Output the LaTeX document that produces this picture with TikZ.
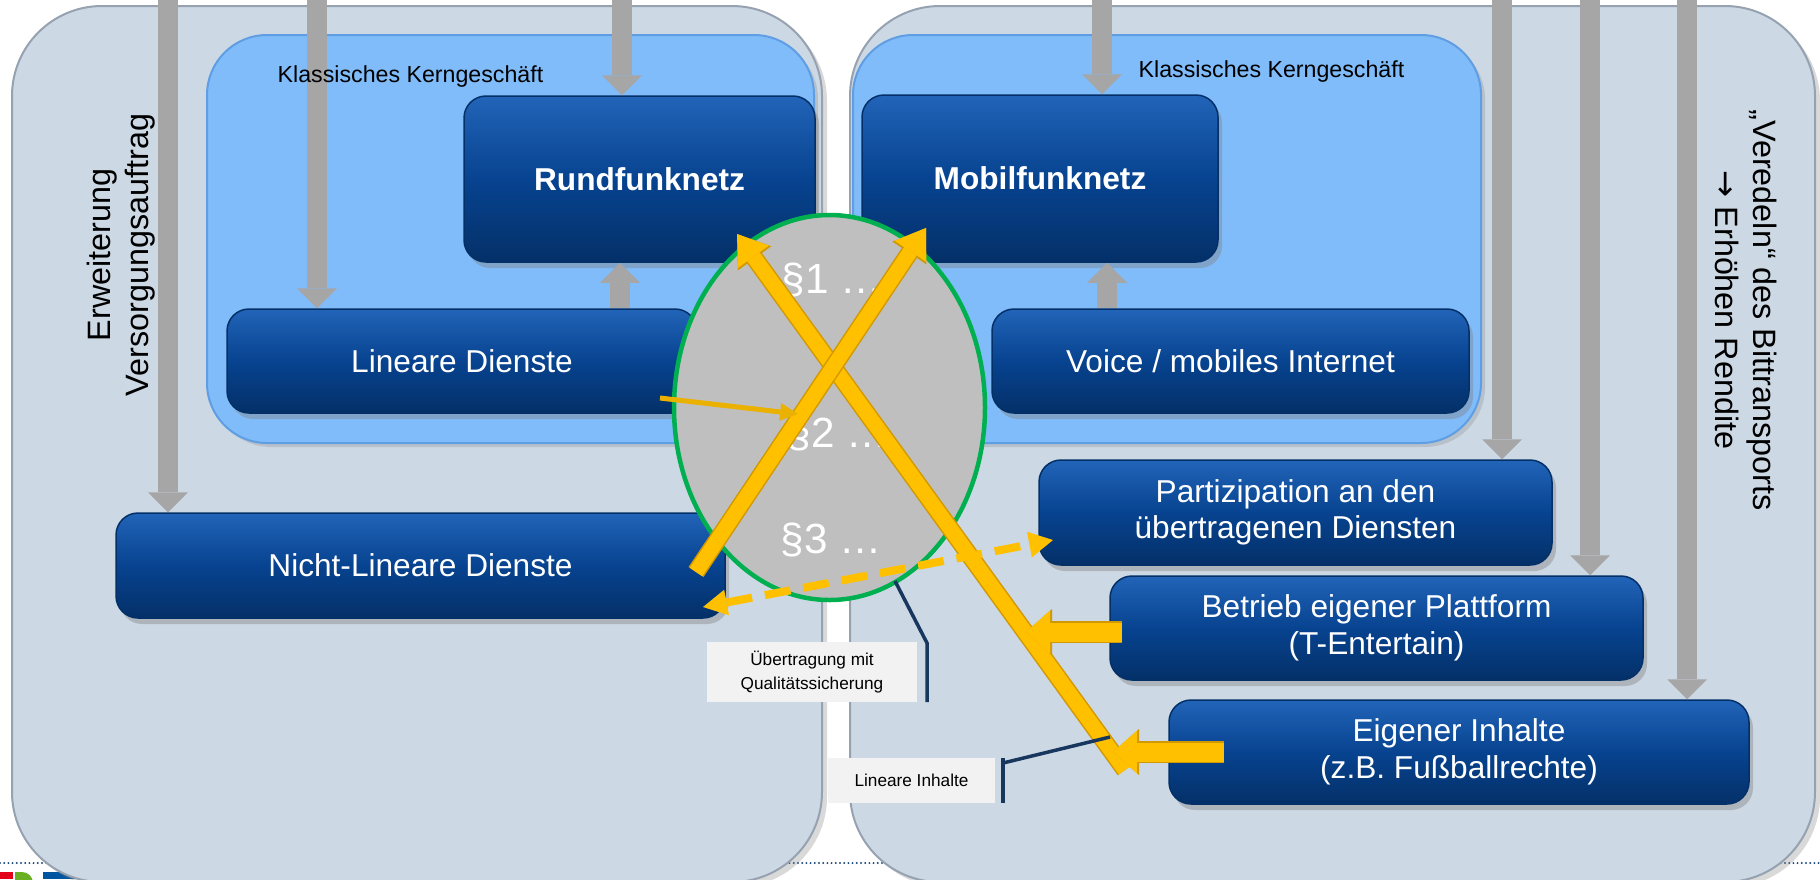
\documentclass[tikz,border=0pt]{standalone}
\usepackage{fontspec}
\setmainfont{Liberation Sans}
\newfontfamily\arrowfont{DejaVu Sans}
\usetikzlibrary{arrows.meta,shapes.geometric,shadows}
\definecolor{outerfill}{RGB}{204,216,228}
\definecolor{outerline}{RGB}{150,162,176}
\definecolor{innerfill}{RGB}{128,188,250}
\definecolor{innerline}{RGB}{96,158,228}
\definecolor{boxtop}{RGB}{34,100,184}
\definecolor{boxmid}{RGB}{7,67,144}
\definecolor{boxbot}{RGB}{4,48,104}
\definecolor{grayarrow}{RGB}{166,166,166}
\definecolor{ygold}{RGB}{255,192,0}
\definecolor{ydark}{RGB}{210,152,0}
\definecolor{ellfill}{RGB}{191,191,191}
\definecolor{ellgreen}{RGB}{0,176,80}
\definecolor{navy}{RGB}{23,55,94}
\definecolor{labelfill}{RGB}{242,242,242}
\definecolor{dotblue}{RGB}{31,73,125}
\definecolor{logored}{RGB}{226,0,26}
\definecolor{logogreen}{RGB}{106,176,35}
\definecolor{logoblue}{RGB}{0,85,160}
\tikzset{
  outerpanel/.style={rectangle, fill=outerfill, draw=outerline, line width=0.2mm, rounded corners=9mm,
    drop shadow={shadow xshift=0.5mm, shadow yshift=-0.5mm, opacity=0.3}},
  innerpanel/.style={rectangle, fill=innerfill, draw=innerline, line width=0.2mm, rounded corners=6mm,
    drop shadow={shadow xshift=0.4mm, shadow yshift=-0.4mm, opacity=0.25}},
  darkbox/.style={rectangle, rounded corners=2.2mm, top color=boxtop, bottom color=boxbot, middle color=boxmid,
    draw=boxbot, line width=0.15mm, text=white, font=\fontsize{9}{10.4}\selectfont, align=center,
    drop shadow={shadow xshift=0.4mm, shadow yshift=-0.6mm, opacity=0.4}},
  garrow/.style={draw=grayarrow, line width=2mm, -{Triangle[width=4mm,length=2mm,line width=0pt]}},
  yarrow/.style={preaction={draw=ydark, line width=1.8mm, -{Triangle[width=4.1mm,length=3mm,line width=0pt]}},
    draw=ygold, line width=1.5mm, -{Triangle[width=3.8mm,length=2.8mm,line width=0pt]}},
  yarrowh/.style={preaction={draw=ydark, line width=2.2mm, -{Triangle[width=4.6mm,length=2.6mm,line width=0pt]}},
    draw=ygold, line width=1.9mm, -{Triangle[width=4.3mm,length=2.4mm,line width=0pt]}},
  ythin/.style={draw=ygold!92!black, line width=0.5mm, -{Triangle[width=1.8mm,length=1.8mm,line width=0pt]}},
  ydash/.style={draw=ygold, line width=0.8mm, dash pattern=on 2.6mm off 1.3mm,
    {Triangle[width=2.6mm,length=2.4mm,line width=0pt]}-{Triangle[width=2.6mm,length=2.4mm,line width=0pt]}},
  callout/.style={draw=navy, line width=0.35mm},
  lbl/.style={rectangle, fill=labelfill, inner sep=0pt, align=center, font=\fontsize{4.9}{6.8}\selectfont},
  kern/.style={inner sep=0pt, font=\fontsize{6.6}{8}\selectfont},
  rot/.style={inner sep=0pt, align=center, font=\fontsize{9.2}{11}\selectfont},
  ptext/.style={inner sep=0pt, text=white, font=\fontsize{12}{14}\selectfont},
}
\begin{document}
\begin{tikzpicture}[x=0.1mm,y=-0.1mm]
\useasboundingbox (0,0) rectangle (1820,879);
\clip (0,0) rectangle (1820,879);
% footer
\draw[dotblue, line width=0.22mm, dash pattern=on 0mm off 0.42mm, line cap=round] (0,863) -- (1820,863);
\fill[logored] (0,872) rectangle (13,879);
\fill[logogreen] (15,872) -- (22,872) arc[start angle=-90, end angle=0, radius=11] -- (15,883) -- cycle;
\fill[logoblue] (43,872) rectangle (75,879);
% panels
\node[outerpanel, minimum width=81mm, minimum height=87.6mm] (lpanel) at (417,444) {};
\node[outerpanel, minimum width=96.5mm, minimum height=87.6mm] (rpanel) at (1332.5,444) {};
\node[innerpanel, minimum width=60.7mm, minimum height=40.8mm] (lcore) at (510.5,239) {};
\node[innerpanel, minimum width=62.8mm, minimum height=40.8mm] (rcore) at (1167,239) {};
% boxes
\node[darkbox, minimum width=35.1mm, minimum height=16.6mm] (rund) at (639.5,179) {\textbf{Rundfunknetz}};
\node[darkbox, minimum width=35.6mm, minimum height=16.7mm] (mobil) at (1040,178.5) {\textbf{Mobilfunknetz}};
\node[darkbox, minimum width=47mm, minimum height=10.4mm] (lin) at (462,361) {Lineare Dienste};
\node[darkbox, minimum width=47.7mm, minimum height=10.4mm] (voice) at (1230.5,361) {Voice / mobiles Internet};
\node[darkbox, minimum width=60.9mm, minimum height=10.5mm] (nicht) at (420.5,565.5) {Nicht-Lineare Dienste};
\node[darkbox, minimum width=51.3mm, minimum height=10.5mm] (part) at (1295.5,512.5) {Partizipation an den\\übertragenen Diensten};
\node[darkbox, minimum width=53.3mm, minimum height=10.4mm] (betr) at (1376.5,628) {Betrieb eigener Plattform\\(T-Entertain)};
\node[darkbox, minimum width=58mm, minimum height=10.4mm] (eig) at (1459,752) {Eigener Inhalte\\(z.B. Fußballrechte)};
% gray arrows from top
\coordinate (g1) at (168,0);
\coordinate (g2) at (317,0);
\coordinate (g3) at (622,0);
\coordinate (g4) at (1102,0);
\coordinate (g5) at (1502,0);
\coordinate (g6) at (1590,0);
\coordinate (g7) at (1687,0);
\draw[garrow] (g1) -- (g1 |- nicht.north);
\draw[garrow] (g2) -- (g2 |- lin.north);
\draw[garrow] (g3) -- (g3 |- rund.north);
\draw[garrow] (g4) -- (g4 |- mobil.north);
\draw[garrow] (g5) -- (g5 |- part.north);
\draw[garrow] (g6) -- (g6 |- betr.north);
\draw[garrow] (g7) -- (g7 |- eig.north);
% short up arrows
\coordinate (u1) at (620,0);
\coordinate (u2) at (1107,0);
\draw[garrow] (u1 |- lin.north) -- (u1 |- rund.south);
\draw[garrow] (u2 |- voice.north) -- (u2 |- mobil.south);
% labels
\node[kern, anchor=west] (k1) at (277,76) {Klassisches Kerngeschäft};
\node[kern, anchor=west] (k2) at (1138,71) {Klassisches Kerngeschäft};
\node[rot, rotate=90] (erw) at (121,255) {Erweiterung\\Versorgungsauftrag};
\node[rot, rotate=-90] (ver) at (1746,310) {„Veredeln“ des Bittransports\\{\arrowfont →} Erhöhen Rendite};
% ellipse
\node[ellipse, draw=ellgreen, line width=0.45mm, fill=ellfill, minimum width=31.1mm, minimum height=38.5mm, inner sep=0pt] (ell) at (829.5,407.5) {};
\node[ptext, anchor=west] (p1) at (781,280) {§1 …};
\node[ptext, anchor=west] (p2) at (787,434) {§2 …};
\node[ptext, anchor=west] (p3) at (780,540) {§3 …};
% yellow arrows
\coordinate (aS) at (696,572);
\coordinate (aE) at (926,228);
\coordinate (bS) at (1125,770);
\coordinate (bE) at (737,234);
\coordinate (bt) at (1122,632);
\coordinate (btT) at (1026,632);
\coordinate (ei) at (1224,752);
\coordinate (eiT) at (1113,752);
\coordinate (th1) at (660,398);
\coordinate (th2) at (798,414);
\coordinate (d1) at (703,607);
\coordinate (d2) at (1053,540);
\draw[yarrow] (bS) -- (bE);
\draw[yarrow] (aS) -- (aE);
\draw[ythin] (th1) -- (th2);
\draw[yarrowh] (bt) -- (btT);
\draw[yarrowh] (ei) -- (eiT);
\draw[ydash] (d1) -- (d2);
% callouts
\node[lbl, minimum width=21mm, minimum height=6mm] (ueb) at (812,672) {Übertragung mit\\Qualitätssicherung};
\node[lbl, minimum width=16.7mm, minimum height=4.5mm] (lininh) at (911.5,780.5) {Lineare Inhalte};
\coordinate (c1a) at (895,581);
\coordinate (c1b) at (927,643);
\coordinate (c1c) at (927,702);
\draw[callout] (c1a) -- (c1b) -- (c1c);
\coordinate (c2a) at (1110,737);
\coordinate (c2b) at (1003,763);
\coordinate (c2t) at (1003,758);
\coordinate (c2c) at (1003,803);
\draw[callout] (c2a) -- (c2b);
\draw[callout] (c2t) -- (c2c);
\end{tikzpicture}
\end{document}
